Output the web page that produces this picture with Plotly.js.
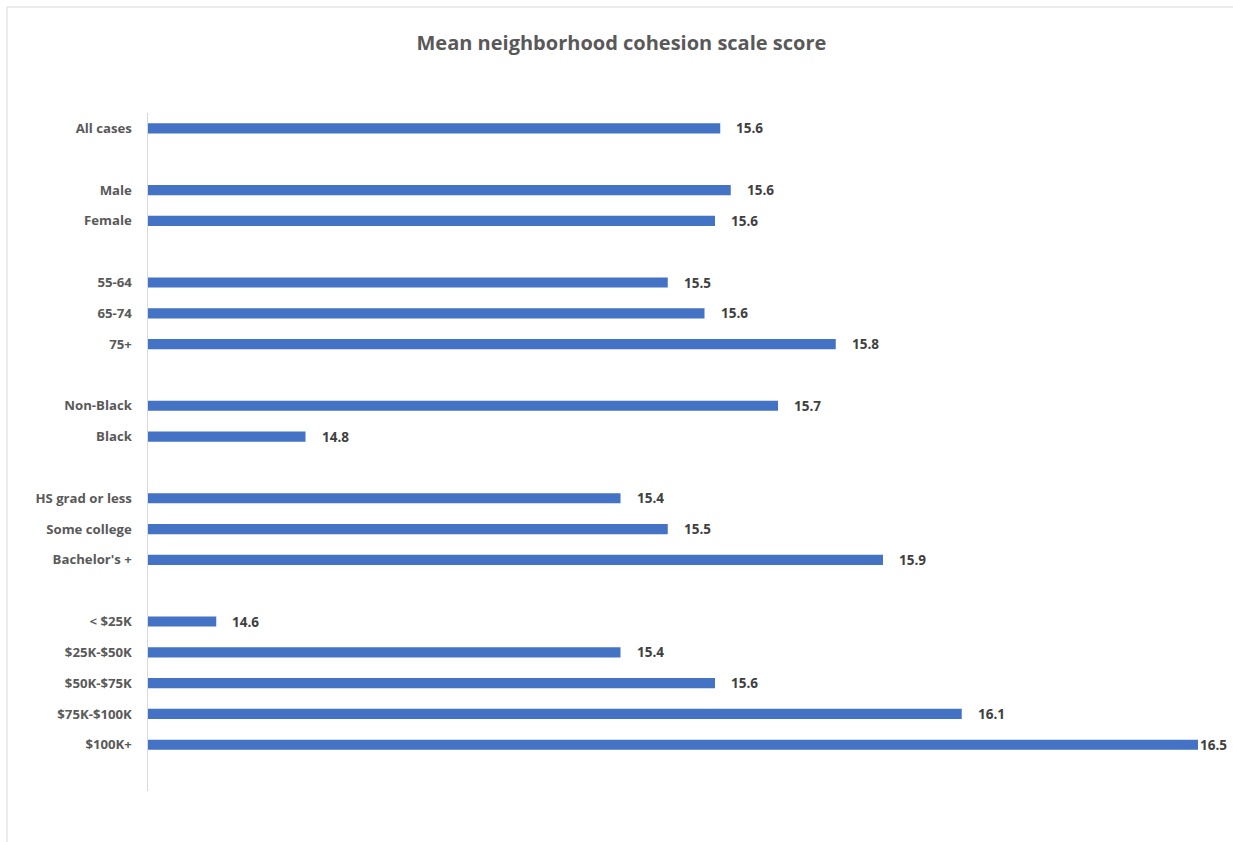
<!DOCTYPE html>
<html>
<head>
<meta charset="utf-8">
<script src="https://cdn.plot.ly/plotly-3.0.1.min.js"></script>
<style>html,body{margin:0;padding:0;background:#fff;}#chart{width:1233px;height:842px;}</style>
</head>
<body>
<div id="chart"></div>
<script>
// Categories in display order (top to bottom); empty strings are group gaps
const categories = ['All cases', '', 'Male', 'Female', '', '55-64', '65-74', '75+', '',
  'Non-Black', 'Black', '', 'HS grad or less', 'Some college', "Bachelor's +", '',
  '< $25K', '$25K-$50K', '$50K-$75K', '$75K-$100K', '$100K+', ''];
// Mean scale scores (bar lengths)
const scores = [15.59, null, 15.61, 15.58, null, 15.49, 15.56, 15.81, null,
  15.70, 14.80, null, 15.40, 15.49, 15.90, null,
  14.63, 15.40, 15.58, 16.05, 16.50, null];
// Data labels as printed
const labels = ['15.6', '', '15.6', '15.6', '', '15.5', '15.6', '15.8', '',
  '15.7', '14.8', '', '15.4', '15.5', '15.9', '',
  '14.6', '15.4', '15.6', '16.1', '16.5', ''];

const xMin = 14.5, xMax = 16.5;
const idx = categories.map((c, i) => i);
const fontFam = '"Open Sans", sans-serif';

const annotations = [];
idx.forEach(i => {
  if (scores[i] === null) return;
  annotations.push({
    x: scores[i], y: i, xref: 'x', yref: 'y',
    text: '<b>' + labels[i] + '</b>', showarrow: false,
    xanchor: 'left', yanchor: 'middle',
    xshift: scores[i] >= xMax ? 0 : 14,
    font: {family: fontFam, size: 13.5, color: '#404040'}
  });
});

const data = [{
  type: 'bar', orientation: 'h',
  x: scores.map(v => v === null ? null : v - xMin),
  y: idx, base: xMin,
  width: 0.33,
  marker: {color: '#4472C4'},
  hoverinfo: 'skip'
}];

const layout = {
  width: 1233, height: 842,
  margin: {l: 148, r: 35, t: 113, b: 51},
  paper_bgcolor: '#ffffff', plot_bgcolor: '#ffffff',
  showlegend: false,
  title: {
    text: '<b>Mean neighborhood cohesion scale score</b>',
    font: {family: fontFam, size: 20, color: '#595959'},
    x: 0.504, xanchor: 'center', xref: 'container',
    y: 1 - 43 / 842, yanchor: 'middle', yref: 'container'
  },
  xaxis: {
    range: [xMin, xMax], visible: false, fixedrange: true
  },
  yaxis: {
    range: [categories.length - 0.5, -0.5],
    tickmode: 'array', tickvals: idx,
    ticktext: categories.map(c => c ? '<b>' + c + '</b>' : ''),
    tickfont: {family: fontFam, size: 13.2, color: '#595959'},
    ticks: 'outside', ticklen: 12, tickcolor: 'rgba(0,0,0,0)',
    showline: true, linecolor: '#d9d9d9', linewidth: 1.5,
    showgrid: false, zeroline: false, fixedrange: true
  },
  annotations: annotations,
  shapes: [
    {type: 'line', xref: 'paper', yref: 'paper',
     x0: (7 - 148) / 1050, x1: (1233 - 148) / 1050,
     y0: 1 + (113 - 7) / 678, y1: 1 + (113 - 7) / 678,
     line: {color: '#d9d9d9', width: 1}, layer: 'below'},
    {type: 'line', xref: 'paper', yref: 'paper',
     x0: (7 - 148) / 1050, x1: (7 - 148) / 1050,
     y0: -51 / 678, y1: 1 + (113 - 7) / 678,
     line: {color: '#d9d9d9', width: 1}, layer: 'below'}
  ]
};

Plotly.newPlot('chart', data, layout, {displayModeBar: false, staticPlot: true});
</script>
</body>
</html>
